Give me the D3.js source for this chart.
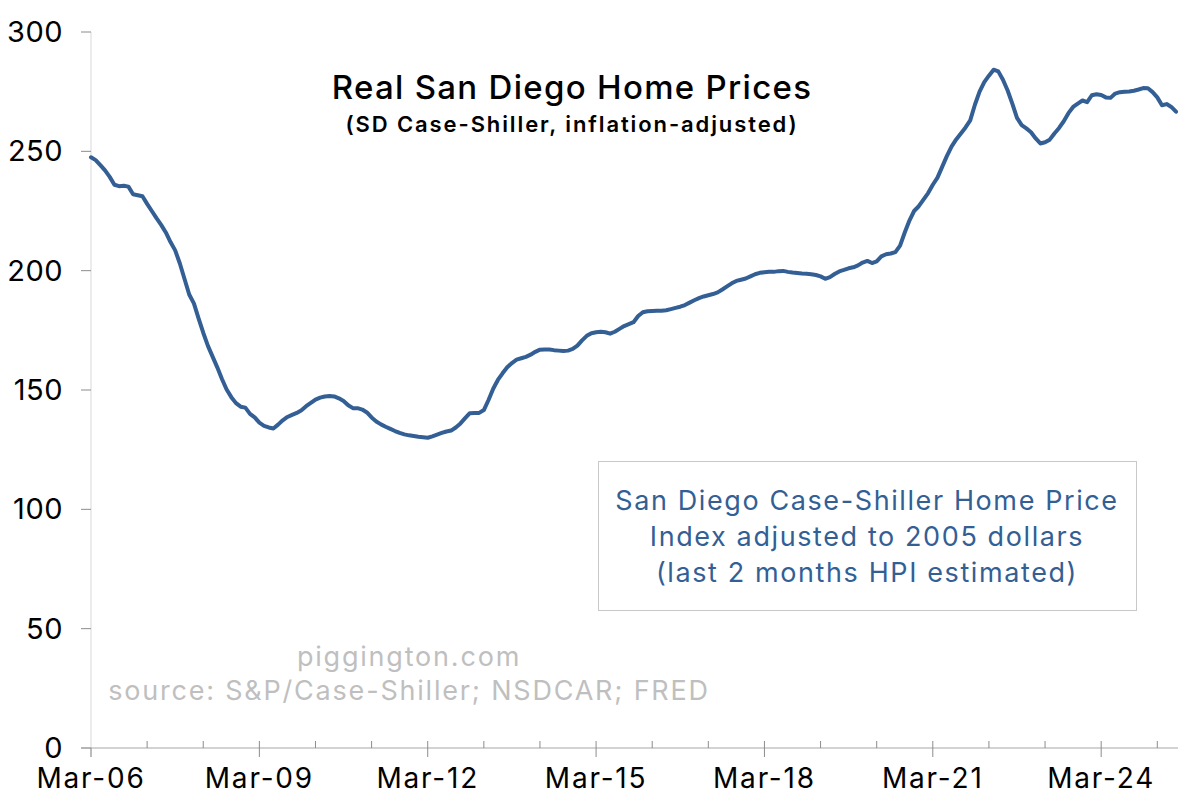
<!DOCTYPE html>
<html>
<head>
<meta charset="utf-8">
<script src="https://d3js.org/d3.v7.min.js"></script>
<style>
  body { margin: 0; background: #fff; }
  svg text { font-family: Inter, "Noto Sans", sans-serif; }
</style>
</head>
<body>
<div id="chart"></div>
<script>
var width = 1200;
var height = 799;

// monthly real SD Case-Shiller index, Mar-06 .. Jul-25
var v2006 = [247.5, 246.3, 244.2, 242.0, 239.3, 236.0, 235.4, 235.6, 235.2, 232.0]; // Mar-Dec
var v2007 = [231.6, 231.2, 228.0, 225.0, 222.0, 219.2, 216.0, 212.0, 208.5, 203.0, 196.5, 190.0];
var v2008 = [186.3, 180.0, 174.0, 168.5, 164.0, 159.5, 154.6, 150.2, 147.0, 144.5, 143.0, 142.6];
var v2009 = [140.0, 138.5, 136.3, 135.0, 134.3, 133.9, 135.5, 137.3, 138.7, 139.6, 140.4, 141.5];
var v2010 = [143.2, 144.6, 146.0, 146.8, 147.3, 147.5, 147.3, 146.5, 145.4, 143.6, 142.4, 142.4];
var v2011 = [141.8, 140.6, 138.5, 136.8, 135.6, 134.6, 133.7, 132.8, 132.0, 131.4, 131.0, 130.7];
var v2012 = [130.4, 130.2, 130.0, 130.6, 131.3, 132.0, 132.6, 133.0, 134.3, 136.0, 138.2, 140.3];
var v2013 = [140.4, 140.4, 141.6, 145.8, 150.5, 154.2, 157.0, 159.5, 161.3, 162.7, 163.3, 163.9];
var v2014 = [164.8, 166.0, 166.9, 167.0, 167.0, 166.7, 166.5, 166.3, 166.5, 167.2, 168.6, 170.8];
var v2015 = [172.7, 173.8, 174.2, 174.4, 174.2, 173.6, 174.4, 175.6, 176.8, 177.6, 178.4, 181.0];
var v2016 = [182.6, 183.0, 183.1, 183.2, 183.2, 183.4, 183.9, 184.4, 184.9, 185.6, 186.6, 187.6];
var v2017 = [188.5, 189.2, 189.7, 190.2, 190.9, 192.1, 193.4, 194.7, 195.7, 196.2, 196.7, 197.6];
var v2018 = [198.5, 199.1, 199.3, 199.5, 199.5, 199.8, 199.9, 199.5, 199.2, 199.0, 198.8, 198.7];
var v2019 = [198.5, 198.2, 197.6, 196.6, 197.3, 198.6, 199.7, 200.3, 201.0, 201.4, 202.2, 203.4];
var v2020 = [204.1, 203.2, 203.9, 206.0, 206.9, 207.2, 207.8, 210.5, 216.0, 221.0, 225.0, 227.0];
var v2021 = [229.8, 232.5, 236.0, 239.0, 243.5, 248.0, 252.0, 255.0, 257.5, 260.0, 263.0, 269.5];
var v2022 = [275.0, 279.0, 281.7, 284.2, 283.5, 280.0, 275.5, 270.0, 264.0, 261.0, 259.6, 258.0];
var v2023 = [255.4, 253.3, 253.8, 254.9, 257.5, 259.8, 262.6, 266.0, 268.6, 270.0, 271.3, 270.6];
var v2024 = [273.5, 273.9, 273.6, 272.6, 272.4, 274.2, 274.8, 275.0, 275.1, 275.4, 275.9, 276.5];
var v2025 = [276.4, 274.8, 272.6, 269.3, 269.8, 268.6, 266.6]; // Jan-Jul

var yTicks = [0, 50, 100, 150, 200, 250, 300];
var xLabels = ["Mar-06", "Mar-09", "Mar-12", "Mar-15", "Mar-18", "Mar-21", "Mar-24"];

var titleText = "Real San Diego Home Prices";
var subtitleText = "(SD Case-Shiller, inflation-adjusted)";
var noteLines = ["San Diego Case-Shiller Home Price", "Index adjusted to 2005 dollars", "(last 2 months HPI estimated)"];
var creditLines = ["piggington.com", "source: S&P/Case-Shiller; NSDCAR; FRED"];

var values = [].concat(v2006, v2007, v2008, v2009, v2010, v2011, v2012, v2013, v2014,
    v2015, v2016, v2017, v2018, v2019, v2020, v2021, v2022, v2023, v2024, v2025);
var data = values.map(function(v, i){ return {i: i, v: v}; });

var lineColour = "#335f95";

var svg = d3.select("#chart")
    .append("svg")
        .attr("width", width)
        .attr("height", height);

var xscale = d3.scaleLinear()
    .domain([0, values.length - 1])
    .range([91, 1176]);
var yscale = d3.scaleLinear()
    .domain([0, 300])
    .range([748, 32]);

// y axis
var yAxis = svg.append("g").attr("class", "y_axis");
yAxis.append("line")
    .attr("x1", 91).attr("x2", 91)
    .attr("y1", yscale(300)).attr("y2", 757)
    .attr("stroke", "#d9d9d9").attr("stroke-width", 1);
yAxis.selectAll(".ytick")
    .data(yTicks)
    .enter().append("line")
    .attr("x1", 81).attr("x2", 91)
    .attr("y1", function(d){ return yscale(d); })
    .attr("y2", function(d){ return yscale(d); })
    .attr("stroke", "#8c8c8c");
yAxis.selectAll(".ylab")
    .data(yTicks)
    .enter().append("text")
    .attr("x", 63)
    .attr("y", function(d){ return yscale(d) + 10; })
    .attr("text-anchor", "end")
    .attr("font-size", 29)
    .attr("letter-spacing", 0.5)
    .attr("fill", "#000")
    .text(function(d){ return d; });

// x axis: yearly minor ticks, 3-year major ticks with labels
var xAxis = svg.append("g").attr("class", "x_axis");
xAxis.append("line")
    .attr("x1", 81).attr("x2", 1178)
    .attr("y1", 748).attr("y2", 748)
    .attr("stroke", "#a6a6a6");
var yearTicks = d3.range(0, values.length, 12);
xAxis.selectAll(".xtick")
    .data(yearTicks)
    .enter().append("line")
    .attr("x1", function(d){ return xscale(d); })
    .attr("x2", function(d){ return xscale(d); })
    .attr("y1", function(d){ return d === 0 ? 748 : 741; })
    .attr("y2", function(d, k){ return k % 3 === 0 ? 757 : 748; })
    .attr("stroke", "#8c8c8c");
xAxis.selectAll(".xlab")
    .data(xLabels)
    .enter().append("text")
    .attr("x", function(d, k){ return xscale(k * 36); })
    .attr("y", 788)
    .attr("text-anchor", "middle")
    .attr("font-size", 28)
    .attr("letter-spacing", 1.8)
    .attr("fill", "#000")
    .text(function(d){ return d; });

// series
var line = d3.line()
    .x(function(d){ return xscale(d.i); })
    .y(function(d){ return yscale(d.v); });
svg.append("path")
    .datum(data)
    .attr("d", line)
    .attr("fill", "none")
    .attr("stroke", lineColour)
    .attr("stroke-width", 4)
    .attr("stroke-linejoin", "round")
    .attr("stroke-linecap", "round");

// titles
svg.append("text")
    .attr("x", 572).attr("y", 99)
    .attr("text-anchor", "middle")
    .attr("font-size", 33)
    .attr("font-weight", 500)
    .attr("letter-spacing", 1.3)
    .attr("fill", "#000")
    .text(titleText);
svg.append("text")
    .attr("x", 572).attr("y", 132)
    .attr("text-anchor", "middle")
    .attr("font-size", 22)
    .attr("font-weight", 600)
    .attr("letter-spacing", 1.9)
    .attr("fill", "#000")
    .text(subtitleText);

// note box
svg.append("rect")
    .attr("x", 598.5).attr("y", 461.5)
    .attr("width", 538).attr("height", 149)
    .attr("fill", "#fff")
    .attr("stroke", "#c8c8c8");
svg.selectAll(".note")
    .data(noteLines)
    .enter().append("text")
    .attr("x", 867)
    .attr("y", function(d, k){ return 510 + k * 36; })
    .attr("text-anchor", "middle")
    .attr("font-size", 27)
    .attr("letter-spacing", 1.6)
    .attr("fill", lineColour)
    .text(function(d){ return d; });

// credits
svg.selectAll(".credit")
    .data(creditLines)
    .enter().append("text")
    .attr("x", 409)
    .attr("y", function(d, k){ return 666 + k * 34; })
    .attr("text-anchor", "middle")
    .attr("font-size", 27)
    .attr("letter-spacing", 1.8)
    .attr("fill", "#bfbfbf")
    .text(function(d){ return d; });
</script>
</body>
</html>
